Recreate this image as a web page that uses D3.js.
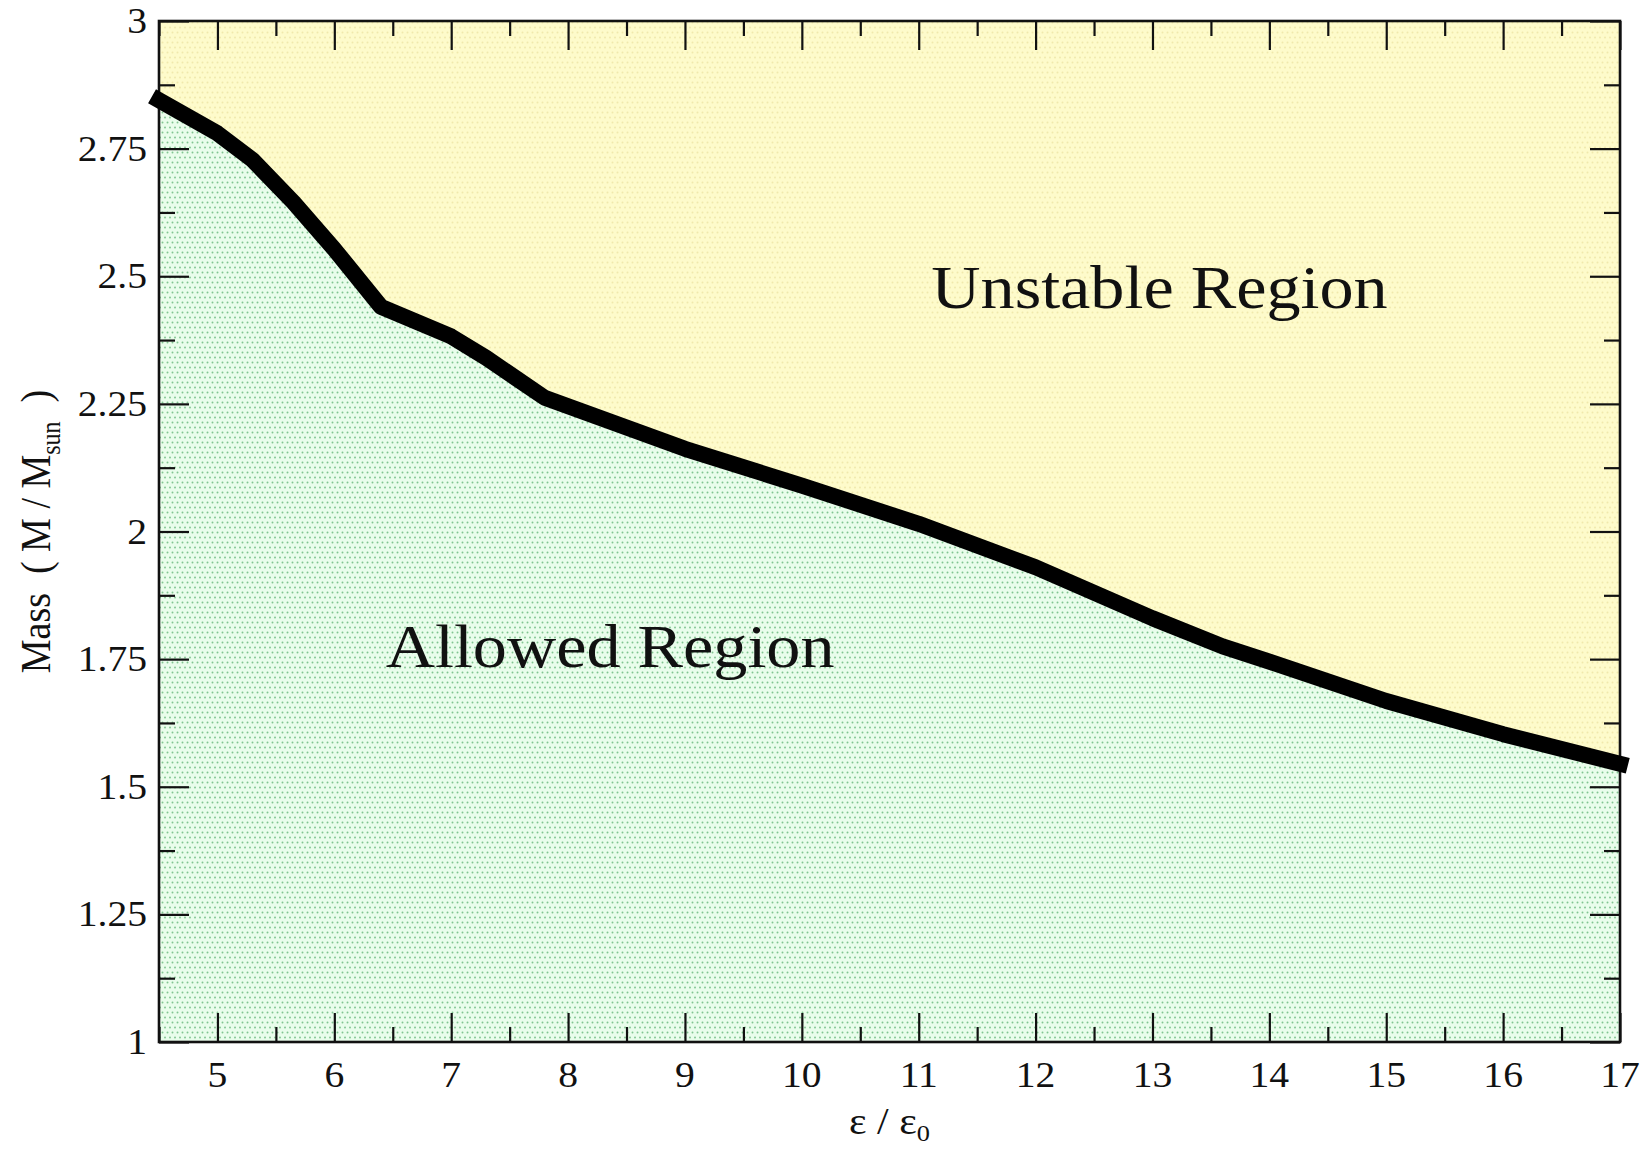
<!DOCTYPE html>
<html>
<head>
<meta charset="utf-8">
<script src="https://cdn.jsdelivr.net/npm/d3@7"></script>
<style>
  html, body { margin: 0; padding: 0; background: #fff; }
  svg text { font-family: "Liberation Serif", "DejaVu Serif", serif; fill: #111; }
</style>
</head>
<body>
<svg id="chart"></svg>
<script>
  // stability limit
  var epsilon = [4.5, 5.0, 5.3, 5.65, 6.0, 6.4, 7.0, 7.3, 7.8, 9.0, 10.0, 11.0, 12.0, 13.0, 13.6, 14.0, 15.0, 16.0, 17.0];
  var mass = [2.845, 2.78, 2.728, 2.645, 2.553, 2.44, 2.382, 2.34, 2.262, 2.162, 2.09, 2.015, 1.93, 1.83, 1.775, 1.745, 1.668, 1.603, 1.545];

  var xMajor = [5, 6, 7, 8, 9, 10, 11, 12, 13, 14, 15, 16, 17];
  var xMinor = [4.5, 5.5, 6.5, 7.5, 8.5, 9.5, 10.5, 11.5, 12.5, 13.5, 14.5, 15.5, 16.5];
  var yMajor = [1, 1.25, 1.5, 1.75, 2, 2.25, 2.5, 2.75, 3];
  var yMinor = [1.125, 1.375, 1.625, 1.875, 2.125, 2.375, 2.625, 2.875];
  var yTickLabels = ['1', '1.25', '1.5', '1.75', '2', '2.25', '2.5', '2.75', '3'];

  var regionLabels = [
    { text: 'Unstable Region', x: 13.06, y: 2.438 },
    { text: 'Allowed Region', x: 8.36, y: 1.735 }
  ];

  var width = 1651, height = 1151;
  var margin = { top: 21, right: 31, bottom: 109, left: 159 };
  var stretch = 1.1;

  var svg = d3.select('#chart')
    .attr('width', width)
    .attr('height', height);

  var x = d3.scaleLinear().domain([4.5, 17]).range([margin.left, width - margin.right]);
  var y = d3.scaleLinear().domain([1, 3]).range([height - margin.bottom, margin.top]);

  var defs = svg.append('defs');

  function dotPattern(id, base, dot) {
    var p = defs.append('pattern')
      .attr('id', id)
      .attr('patternUnits', 'userSpaceOnUse')
      .attr('width', 10)
      .attr('height', 10);
    p.append('rect').attr('width', 10).attr('height', 10).attr('fill', base);
    [[2.5, 2.5], [7.5, 2.5], [0, 7.5], [5, 7.5], [10, 7.5]].forEach(function(c) {
      p.append('circle').attr('cx', c[0]).attr('cy', c[1]).attr('r', 0.95).attr('fill', dot);
    });
  }
  dotPattern('dots-green', '#e9fdeb', '#80c590');
  dotPattern('dots-yellow', '#fefbcb', '#f0e9ac');

  defs.append('clipPath')
    .attr('id', 'plot-clip')
    .append('rect')
    .attr('x', margin.left)
    .attr('y', margin.top)
    .attr('width', width - margin.left - margin.right)
    .attr('height', height - margin.top - margin.bottom);

  var points = epsilon.map(function(e, i) { return [e, mass[i]]; });

  var plot = svg.append('g').attr('clip-path', 'url(#plot-clip)');

  plot.append('path')
    .datum(points)
    .attr('fill', 'url(#dots-yellow)')
    .attr('d', d3.area()
      .x(function(d) { return x(d[0]); })
      .y0(y(3))
      .y1(function(d) { return y(d[1]); }));

  plot.append('path')
    .datum(points)
    .attr('fill', 'url(#dots-green)')
    .attr('d', d3.area()
      .x(function(d) { return x(d[0]); })
      .y0(y(1))
      .y1(function(d) { return y(d[1]); }));

  // ticks on all four sides, pointing inward
  function tickAxis(axis, values, size) {
    return axis.tickValues(values).tickSizeInner(-size).tickSizeOuter(0).tickFormat('');
  }

  var axes = [
    [d3.axisBottom(x), xMajor, 29, 'translate(0,' + y(1) + ')'],
    [d3.axisBottom(x), xMinor, 15, 'translate(0,' + y(1) + ')'],
    [d3.axisTop(x), xMajor, 29, 'translate(0,' + y(3) + ')'],
    [d3.axisTop(x), xMinor, 15, 'translate(0,' + y(3) + ')'],
    [d3.axisLeft(y), yMajor, 30, 'translate(' + x(4.5) + ',0)'],
    [d3.axisLeft(y), yMinor, 16, 'translate(' + x(4.5) + ',0)'],
    [d3.axisRight(y), yMajor, 30, 'translate(' + x(17) + ',0)'],
    [d3.axisRight(y), yMinor, 16, 'translate(' + x(17) + ',0)']
  ];
  axes.forEach(function(a) {
    var g = svg.append('g')
      .attr('transform', a[3])
      .call(tickAxis(a[0], a[1], a[2]));
    g.select('.domain').remove();
    g.selectAll('.tick line').attr('stroke', '#111').attr('stroke-width', 2.2);
  });

  svg.append('rect')
    .attr('x', x(4.5))
    .attr('y', y(3))
    .attr('width', x(17) - x(4.5))
    .attr('height', y(1) - y(3))
    .attr('fill', 'none')
    .attr('stroke', '#111')
    .attr('stroke-width', 2.6);

  svg.append('path')
    .datum(points)
    .attr('fill', 'none')
    .attr('stroke', '#000')
    .attr('stroke-width', 16)
    .attr('stroke-linecap', 'square')
    .attr('stroke-linejoin', 'round')
    .attr('d', d3.line()
      .x(function(d) { return x(d[0]); })
      .y(function(d) { return y(d[1]); }));

  // tick labels
  svg.append('g').selectAll('text')
    .data(xMajor)
    .enter().append('text')
    .attr('text-anchor', 'middle')
    .attr('font-size', 36)
    .attr('transform', function(d) { return 'translate(' + x(d) + ',1087) scale(' + stretch + ',1)'; })
    .text(function(d) { return d; });

  svg.append('g').selectAll('text')
    .data(yMajor)
    .enter().append('text')
    .attr('text-anchor', 'end')
    .attr('font-size', 36)
    .attr('transform', function(d) { return 'translate(147,' + (y(d) + 12) + ') scale(' + stretch + ',1)'; })
    .text(function(d, i) { return yTickLabels[i]; });

  // axis titles
  var xTitle = svg.append('text')
    .attr('text-anchor', 'middle')
    .attr('font-size', 38)
    .attr('transform', 'translate(' + ((x(4.5) + x(17)) / 2) + ',1134) scale(' + stretch + ',1)');
  xTitle.append('tspan').text('\u03b5 / \u03b5');
  xTitle.append('tspan').attr('font-size', 24).attr('dy', 7).text('0');

  var yTitle = svg.append('text')
    .attr('text-anchor', 'middle')
    .attr('font-size', 38)
    .style('white-space', 'pre')
    .attr('transform', 'translate(50,' + ((y(1) + y(3)) / 2) + ') scale(' + stretch + ',1) rotate(-90)');
  yTitle.append('tspan').text('Mass  ( M / M');
  yTitle.append('tspan').attr('font-size', 24).attr('dy', 9).text('sun');
  yTitle.append('tspan').attr('dy', -9).text('  )');

  svg.append('g').selectAll('text')
    .data(regionLabels)
    .enter().append('text')
    .attr('text-anchor', 'middle')
    .attr('font-size', 62)
    .attr('transform', function(d) { return 'translate(' + x(d.x) + ',' + y(d.y) + ') scale(' + stretch + ',1)'; })
    .text(function(d) { return d.text; });
</script>
</body>
</html>
